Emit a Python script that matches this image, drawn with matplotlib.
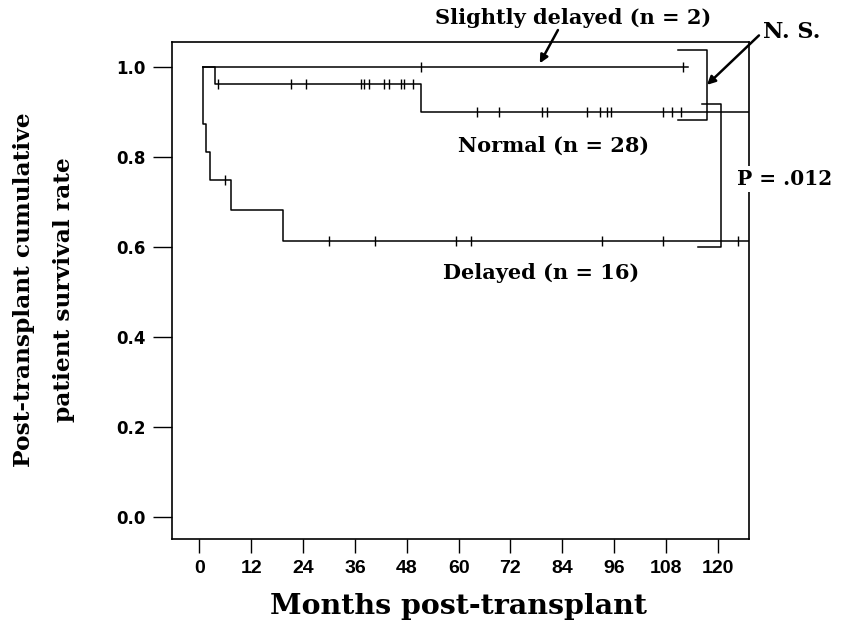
import numpy as np
import matplotlib.pyplot as plt

# Kaplan-Meier curves (months, survival rate)
slight_start, slight_end = 0.9, 113
slight_death_t = []
slight_surv = []
slight_cens = [51.3, 112.0]

normal_start, normal_end = 0.9, 135
normal_death_t = [3.6, 51.3]
normal_surv = [0.964, 0.90]
normal_cens = [4.3, 21.3, 24.6, 37.4, 38.0, 39.3, 42.7, 43.9, 46.6, 47.4, 49.5,
               64.2, 69.4, 79.4, 80.4, 89.8, 92.7, 94.3, 95.2, 107.2, 109.3, 111.5]

delayed_start, delayed_end = 0.8, 135
delayed_death_t = [0.8, 1.6, 2.4, 7.4, 19.3]
delayed_surv = [0.875, 0.8125, 0.75, 0.682, 0.614]
delayed_cens = [5.9, 30.0, 40.7, 59.4, 62.8, 93.1, 107.4, 124.6]

x_ticks = [0, 12, 24, 36, 48, 60, 72, 84, 96, 108, 120]
y_ticks = [0.0, 0.2, 0.4, 0.6, 0.8, 1.0]


def km_steps(start, end, death_t, surv):
    x = [start] + list(death_t) + [end]
    y = [1.0] + list(surv) + [surv[-1] if surv else 1.0]
    return np.array(x), np.array(y)


def surv_at(x, y, t):
    idx = np.searchsorted(x, t, side='right') - 1
    return y[idx]


fig = plt.figure(figsize=(8.43, 6.34), dpi=100)
ax = fig.add_axes([0.2037, 0.1494, 0.6852, 0.7848])

serif = ['DejaVu Serif']
groups = [
    (slight_start, slight_end, slight_death_t, slight_surv, slight_cens),
    (normal_start, normal_end, normal_death_t, normal_surv, normal_cens),
    (delayed_start, delayed_end, delayed_death_t, delayed_surv, delayed_cens),
]
for start, end, dt, sv, cens in groups:
    x, y = km_steps(start, end, dt, sv)
    ax.step(x, y, where='post', color='k', lw=1.1)
    ax.plot(cens, surv_at(x, y, np.array(cens)), linestyle='none', marker='|',
            ms=7, mew=1.0, color='k')

ax.set_xlim(-6.4, 127.3)
ax.set_ylim(-0.05, 1.057)
ax.set_xticks(x_ticks)
ax.set_yticks(y_ticks)
ax.set_xticklabels([str(v) for v in x_ticks], family=['Liberation Sans'],
                   fontweight='bold', fontsize=14)
ax.set_yticklabels(['%.1f' % v for v in y_ticks], family=['DejaVu Sans'],
                   fontweight='bold', fontsize=12)
ax.tick_params(axis='x', length=10, width=1.0, pad=5)
ax.tick_params(axis='y', length=14, width=1.0, pad=5)
for sp in ax.spines.values():
    sp.set_linewidth(1.2)

# axis titles
fig.text(458 / 843, 1 - 614 / 634, 'Months post-transplant', family=serif, fontweight='bold',
         fontsize=20.5, ha='center', va='baseline')
fig.text(44 / 843, 1 - 290 / 634, 'Post-transplant cumulative\npatient survival rate',
         family=serif, fontweight='bold', fontsize=16.8, rotation=90, ha='center', va='center',
         multialignment='center', linespacing=2.1)

# group labels
ax.text(86.5, 1.11, 'Slightly delayed (n = 2)', family=serif, fontweight='bold', fontsize=15,
        ha='center', va='center', clip_on=False)
ax.annotate('', xy=(78.8, 1.009), xytext=(83.0, 1.083),
            arrowprops=dict(arrowstyle='-|>', color='k', lw=1.8, mutation_scale=12,
                            shrinkA=0, shrinkB=0), annotation_clip=False)
ax.text(82, 0.825, 'Normal (n = 28)', family=serif, fontweight='bold', fontsize=15,
        ha='center', va='center')
ax.text(79.2, 0.543, 'Delayed (n = 16)', family=serif, fontweight='bold', fontsize=15,
        ha='center', va='center')

# N.S. bracket and arrow
ax.plot([110.8, 117.6, 117.6, 110.8], [1.039, 1.039, 0.882, 0.882], color='k', lw=1.1,
        clip_on=False)
ax.annotate('N. S.', xy=(117.5, 0.961), xytext=(130.4, 1.079), family=serif,
            fontweight='bold', fontsize=16, ha='left', va='center', annotation_clip=False,
            arrowprops=dict(arrowstyle='-|>', color='k', lw=1.8, mutation_scale=12,
                            shrinkA=1, shrinkB=0, relpos=(0, 0.5)))

# P bracket
ax.plot([116.3, 120.7, 120.7, 115.5], [0.919, 0.919, 0.600, 0.600], color='k', lw=1.1,
        clip_on=False)
ax.text(124.4, 0.752, 'P = .012', family=serif, fontweight='bold', fontsize=14.5,
        ha='left', va='center', clip_on=False, zorder=5,
        bbox=dict(facecolor='white', edgecolor='none', pad=2))

fig.savefig('out.png', dpi=100)
